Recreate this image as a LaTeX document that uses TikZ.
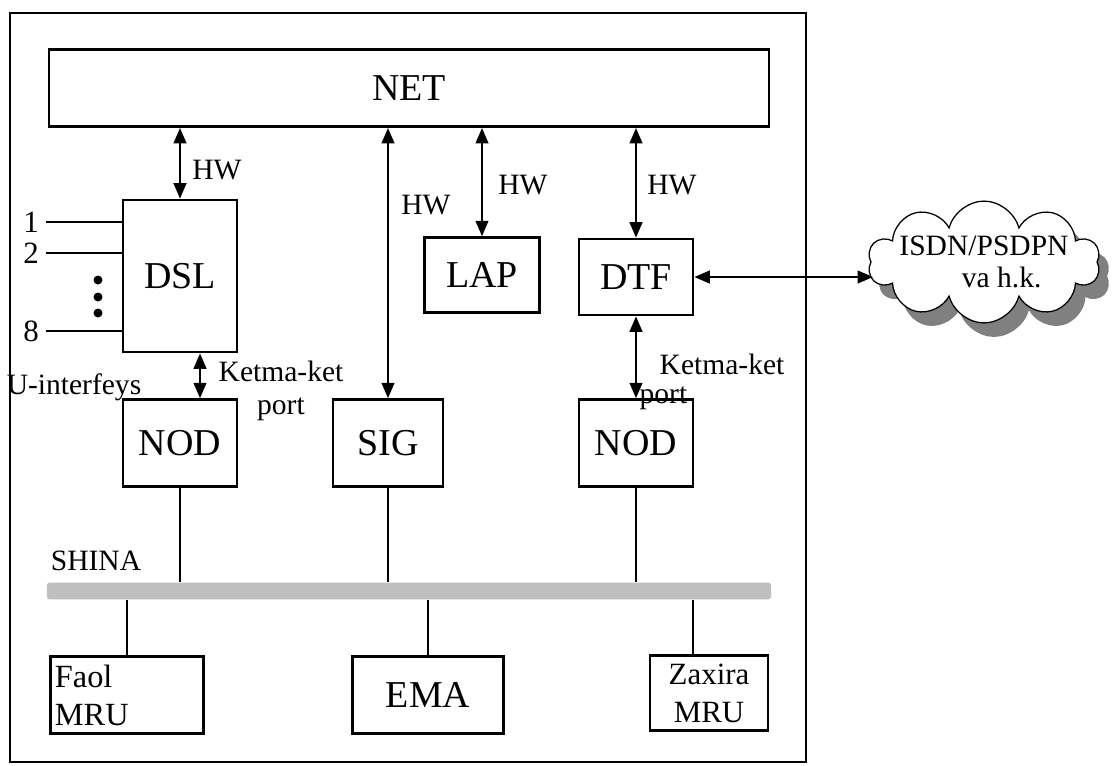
\documentclass[tikz,border=0pt]{standalone}
\usepackage{fontspec}
\setmainfont{Liberation Serif}
\usetikzlibrary{arrows.meta, shapes.symbols, shadows}

\tikzset{
  blk/.style={draw, line width=1.9pt, rectangle, inner sep=2pt, font=\fontsize{27}{30}\selectfont},
  lbl/.style={inner sep=1pt, font=\fontsize{21}{24}\selectfont},
  link/.style={line width=1.6pt, {Triangle[length=11pt,width=9pt]}-{Triangle[length=11pt,width=9pt]}},
  wire/.style={line width=1.3pt}
}

\begin{document}
\begin{tikzpicture}[x=0.025cm, y=-0.025cm]
  \useasboundingbox (0,0) rectangle (1117,765);
  \draw[line width=1.4pt] (10,13) rectangle (806,762);

  % upper blocks
  \node (net) [blk, minimum width=18.0cm, minimum height=1.93cm] at (409,88) {NET};
  \node (dsl) [blk, minimum width=2.85cm, minimum height=3.8cm] at (180,276) {DSL};
  \node (lap) [blk, minimum width=2.87cm, minimum height=1.87cm] at (482,275) {LAP};
  \node (dtf) [blk, minimum width=2.85cm, minimum height=1.9cm] at (636,277) {DTF};
  \node (cloud) [draw, line width=0.9pt, fill=white, cloud, cloud puffs=10, aspect=2.8,
    minimum width=5.8cm, minimum height=2.2cm, inner sep=-7pt,
    drop shadow={shadow xshift=0.25cm, shadow yshift=-0.35cm, fill=black!50, opacity=1},
    font=\fontsize{21}{23}\selectfont, align=center] at (984,262) {ISDN/PSDPN\\\hspace{1.2em}va h.k.};

  % middle blocks
  \node (nodl) [blk, minimum width=2.85cm, minimum height=2.17cm] at (180,443) {NOD};
  \node (sig) [blk, minimum width=2.75cm, minimum height=2.17cm] at (388,443) {SIG};
  \node (nodr) [blk, minimum width=2.85cm, minimum height=2.17cm] at (636,443) {NOD};

  % bus
  \node (bus) [fill=black!25, rounded corners=2pt, minimum width=18.1cm, minimum height=0.42cm, inner sep=0pt] at (409,591) {};
  \node (shina) [lbl] at (96,561) {SHINA};

  % lower blocks
  \node (faol) [blk, minimum width=3.82cm, minimum height=1.92cm, text width=3.6cm, align=left, inner sep=1pt,
    font=\fontsize{23}{27}\selectfont] at (127,695) {Faol\\MRU};
  \node (ema) [blk, minimum width=3.77cm, minimum height=1.92cm] at (428,695) {EMA};
  \node (zax) [blk, minimum width=2.95cm, minimum height=1.87cm, align=center,
    font=\fontsize{22}{27}\selectfont] at (709,693) {Zaxira\\MRU};

  % HW links
  \draw[link] (dsl.north) -- (dsl.north |- net.south);
  \draw[link] (sig.north) -- (sig.north |- net.south);
  \draw[link] (lap.north) -- (lap.north |- net.south);
  \draw[link] (dtf.north) -- (dtf.north |- net.south);
  \node (hw1) [lbl] at (217,170) {HW};
  \node (hw2) [lbl] at (426,205) {HW};
  \node (hw3) [lbl] at (523,185) {HW};
  \node (hw4) [lbl] at (672,185) {HW};

  % serial ports
  \draw[link] ([xshift=0.5cm]dsl.south) -- ([xshift=0.5cm]nodl.north);
  \draw[link] (dtf.south) -- (nodr.north);
  \node (portl) [lbl, align=center] at (281,391) {Ketma-ket\\port};
  \node (ketr) [lbl, anchor=west] at (658,364) {Ketma-ket};
  \node (portr) [lbl, anchor=west] at (638,398) {port};
  \draw[link] (dtf.east) -- ([xshift=2pt]cloud.west |- dtf.east);

  % U-interface lines
  \node (u1) [lbl, font=\fontsize{22}{24}\selectfont] at (31,222) {1};
  \node (u2) [lbl, font=\fontsize{22}{24}\selectfont] at (31,253) {2};
  \node (u8) [lbl, font=\fontsize{22}{24}\selectfont] at (31,331) {8};
  \draw[wire] (46,222) -- (dsl.west |- u1);
  \draw[wire] (46,253) -- (dsl.west |- u2);
  \draw[wire] (46,331) -- (dsl.west |- u8);
  \foreach \y in {280,297,313}
    \fill (98,\y) circle (4.5);
  \node (uif) [lbl] at (74,387) {U-interfeys};

  % bus connections
  \draw[wire] (nodl.south) -- (nodl.south |- bus.north);
  \draw[wire] (sig.south) -- (sig.south |- bus.north);
  \draw[wire] (nodr.south) -- (nodr.south |- bus.north);
  \draw[wire] (faol.north) -- (faol.north |- bus.south);
  \draw[wire] (ema.north) -- (ema.north |- bus.south);
  \draw[wire] ([xshift=-0.4cm]zax.north) -- ([xshift=-0.4cm]zax.north |- bus.south);
\end{tikzpicture}
\end{document}
